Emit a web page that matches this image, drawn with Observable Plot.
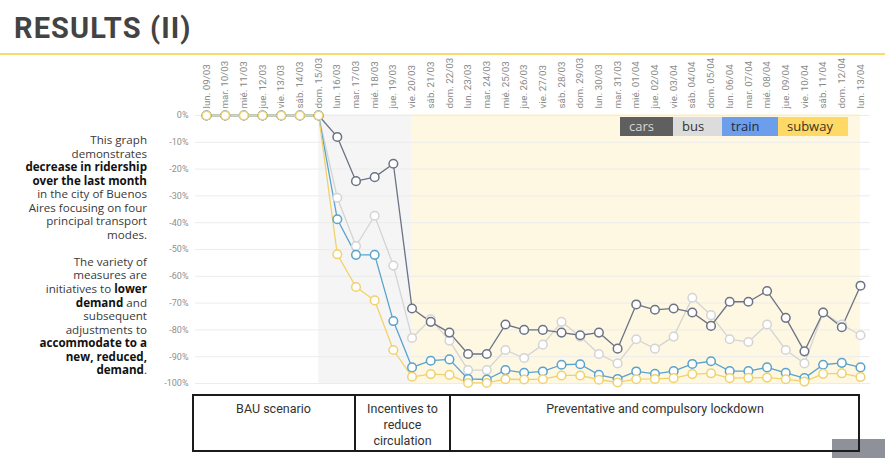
<!DOCTYPE html>
<html>
<head>
<meta charset="utf-8">
<script src="https://cdn.jsdelivr.net/npm/d3@7"></script>
<script src="https://cdn.jsdelivr.net/npm/@observablehq/plot@0.6"></script>
<style>
  html, body { margin: 0; padding: 0; background: #fff; }
  #page { position: relative; width: 885px; height: 458px; overflow: hidden; background: #fff; font-family: Roboto, sans-serif; }
  .abs { position: absolute; }
  #title { left: 14px; top: 14px; font: 700 29px/28px Roboto, sans-serif; color: #434343; letter-spacing: 1.1px; }
  #rule { left: 0; top: 53px; width: 885px; height: 2px; background: #fcd96f; }
  #side { left: 0; top: 133px; width: 147px; text-align: right; font: 400 11.6px/13.55px "Open Sans", sans-serif; color: #3a3a3a; }
  #side b { color: #111; font-weight: 700; }
  #chart { left: 150px; top: 56px; }
  .leg { top: 117px; height: 19px; font: 400 13px/19px "Open Sans", sans-serif; padding-left: 9px; box-sizing: border-box; }
  #grey { left: 832px; top: 439px; width: 53px; height: 19px; background: #8f919a; }
  #box { left: 192px; top: 394px; width: 668px; height: 58px; border: 2px solid #1b1b1b; box-sizing: border-box; }
  .div { top: 394px; width: 2px; height: 58px; background: #1b1b1b; }
  .cell { top: 401px; text-align: center; font: 400 12.5px/16px Roboto, sans-serif; color: #333; }
</style>
</head>
<body>
<div id="page">
  <div id="title" class="abs">RESULTS (II)</div>
  <div id="rule" class="abs"></div>
  <div id="side" class="abs">
    This graph<br>demonstrates<br><b>decrease in ridership</b><br><b>over the last month</b><br>in the city of Buenos<br>Aires focusing on four<br>principal transport<br>modes.<br><br>
    The variety of<br>measures are<br>initiatives to <b>lower</b><br><b>demand</b> and<br>subsequent<br>adjustments to<br><b>accommodate to a</b><br><b>new, reduced,</b><br><b>demand</b>.
  </div>
  <div id="chart" class="abs"></div>
  <div id="legend"></div>
  <div id="grey" class="abs"></div>
  <div id="box" class="abs"></div>
  <div class="abs div" style="left:354px"></div>
  <div class="abs div" style="left:449px"></div>
  <div class="abs cell" style="left:192px;width:163px">BAU scenario</div>
  <div class="abs cell" style="left:355px;width:95px">Incentives to<br>reduce<br>circulation</div>
  <div class="abs cell" style="left:450px;width:410px">Preventative and compulsory lockdown</div>
</div>
<script>
const dates = ["lun. 09/03","mar. 10/03","mié. 11/03","jue. 12/03","vie. 13/03","sáb. 14/03","dom. 15/03","lun. 16/03","mar. 17/03","mié. 18/03","jue. 19/03","vie. 20/03","sáb. 21/03","dom. 22/03","lun. 23/03","mar. 24/03","mié. 25/03","jue. 26/03","vie. 27/03","sáb. 28/03","dom. 29/03","lun. 30/03","mar. 31/03","mié. 01/04","jue. 02/04","vie. 03/04","sáb. 04/04","dom. 05/04","lun. 06/04","mar. 07/04","mié. 08/04","jue. 09/04","vie. 10/04","sáb. 11/04","dom. 12/04","lun. 13/04"];

const cars   = [0,0,0,0,0,0,0,-8,-24.5,-23,-18,-72,-77,-81,-89,-89,-78,-80,-80,-81,-82,-81,-87,-70.5,-72.5,-72,-73.5,-78.5,-69.5,-69.5,-65.5,-75.5,-88,-73.5,-79,-63.5];
const bus    = [0,0,0,0,0,0,0,-30.7,-48.7,-37.4,-56,-83,-76,-84,-95,-95,-87.5,-90.5,-85.5,-77,-82.5,-89,-92.5,-83.5,-87,-82.5,-68,-74.5,-83.5,-84.5,-78,-87.5,-92.5,-73.5,-78,-82];
const train  = [0,0,0,0,0,0,0,-38.7,-52,-52,-76.7,-94,-91.5,-91,-98.3,-98.5,-95,-96,-95.5,-93,-92.8,-96.8,-98.3,-95.5,-96.4,-95.4,-92.7,-91.7,-95.4,-95.4,-94,-96,-98,-93,-92.3,-94];
const subway = [0,0,0,0,0,0,0,-51.8,-64,-69,-87.5,-97.5,-96.5,-96.8,-99.8,-99.8,-98.4,-98.5,-98.4,-97,-97,-98.6,-99.6,-98.4,-98.3,-98,-96.5,-96.2,-98,-97.9,-97.8,-98.4,-99.3,-96.4,-96.2,-97.6];

const yTicks = [0,-10,-20,-30,-40,-50,-60,-70,-80,-90,-100];
const phases = [
  {start: 6, end: 11, fill: "#f5f5f5"},
  {start: 11, end: 35, fill: "#fef7e1"}
];
const legendItems = [
  {name: "cars", bg: "#5f5f5f", fg: "#d8d8d8", left: 620, width: 53},
  {name: "bus", bg: "#dcdcdc", fg: "#333", left: 673, width: 49},
  {name: "train", bg: "#6d9eeb", fg: "#1d2b44", left: 722, width: 56},
  {name: "subway", bg: "#ffd966", fg: "#3b3320", left: 778, width: 70}
];
const seriesStyle = [
  {name: "bus", values: bus, color: "#d4d4d4"},
  {name: "cars", values: cars, color: "#6c7386"},
  {name: "train", values: train, color: "#5aa3cc"},
  {name: "subway", values: subway, color: "#f0d26c"}
];

const data = seriesStyle.flatMap(s => s.values.map((v, i) => ({i, v, k: s.name})));
const colorDomain = seriesStyle.map(s => s.name);
const colorRange = seriesStyle.map(s => s.color);

const chart = Plot.plot({
  width: 730, height: 335,
  marginLeft: 56, marginRight: 20, marginTop: 59, marginBottom: 8,
  x: {domain: [0, 35], axis: null},
  y: {domain: [-100, 0], axis: null},
  color: {domain: colorDomain, range: colorRange},
  style: {background: "transparent", fontFamily: "Roboto, sans-serif", overflow: "visible"},
  marks: [
    Plot.rect(phases.map(p => ({...p, lo: -100.4, hi: 0.4})), {x1: "start", x2: "end", y1: "lo", y2: "hi", fill: d => d.fill}),
    Plot.ruleY(yTicks, {stroke: "#ececec", strokeWidth: 1, insetLeft: -11, insetRight: -10}),
    Plot.axisX({anchor: "top", ticks: d3.range(36), tickFormat: i => dates[i], tickRotate: -90, tickSize: 0, tickPadding: 7, fontSize: 9.8, fill: "#8a8a8a", label: null}),
    Plot.axisY({ticks: yTicks, tickFormat: d => d + "%", tickSize: 0, tickPadding: 18, fontSize: 9, fill: "#8f8f8f", label: null}),
    Plot.line(data, {x: "i", y: "v", z: "k", stroke: "k", strokeWidth: 1.3}),
    Plot.dot(data, {x: "i", y: "v", stroke: "k", fill: "white", r: 4.3, strokeWidth: 1.5})
  ]
});
document.getElementById("chart").appendChild(chart);

const legend = document.getElementById("legend");
for (const it of legendItems) {
  const d = document.createElement("div");
  d.className = "abs leg";
  d.style.left = it.left + "px";
  d.style.width = it.width + "px";
  d.style.background = it.bg;
  d.style.color = it.fg;
  d.textContent = it.name;
  legend.appendChild(d);
}
</script>
</body>
</html>
